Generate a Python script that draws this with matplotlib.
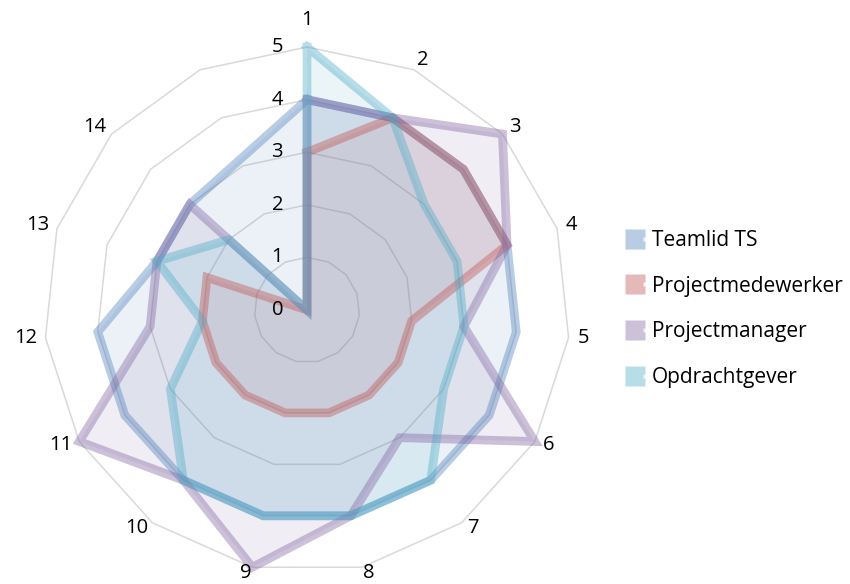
import numpy as np
import matplotlib
matplotlib.use("Agg")
import matplotlib.pyplot as plt
from matplotlib.lines import Line2D
from matplotlib.legend_handler import HandlerTuple

plt.rcParams["font.family"] = ["Open Sans", "DejaVu Sans"]

# 15 spokes, the last one has no label
categories = ["1", "2", "3", "4", "5", "6", "7", "8", "9", "10", "11", "12", "13", "14", ""]
levels = [0, 1, 2, 3, 4, 5]

series_names = ["Teamlid TS", "Projectmedewerker", "Projectmanager", "Opdrachtgever"]
teamlid = [4, 4, 4, 4, 4, 4, 4, 4, 4, 4, 4, 4, 3, 3, np.nan]
medewerker = [3, 4, 4, 4, 2, 2, 2, 2, 2, 2, 2, 2, 2, 0, 0]
manager = [4, 4, 5, 4, 3, 5, 3, 4, 5, 4, 5, 3, 3, 3, 0]
opdrachtgever = [5, 4, 3, 3, 3, 3, 4, 4, 4, 4, 3, 2, 3, 2, 0]
series_values = [teamlid, medewerker, manager, opdrachtgever]
colors = ["#4F81BD", "#C0504D", "#8064A2", "#4BACC6"]

n = len(categories)
theta = np.arange(n) * 2 * np.pi / n

fig = plt.figure(figsize=(8.5, 5.84), dpi=100)
ax = fig.add_axes([0.0518, 0.0188, 0.6188, 0.9007], projection="polar")
ax.set_theta_offset(np.pi / 2)
ax.set_theta_direction(-1)
ax.set_ylim(0, 5)
ax.set_xticks([])
ax.set_yticks([])
ax.grid(False)
ax.spines["polar"].set_visible(False)
ax.patch.set_visible(False)

# polygon grid
th_closed = np.append(theta, theta[0])
for lv in levels[1:]:
    ax.plot(th_closed, [lv] * (n + 1), color="#D9D9D9", lw=1.1, zorder=1, clip_on=False)

# series
for vals, col in zip(series_values, colors):
    v = np.array(vals, dtype=float)
    ok = ~np.isnan(v)
    t = np.append(theta[ok], theta[ok][0])
    r = np.append(v[ok], v[ok][0])
    ax.fill(t, r, color=col, alpha=0.11, lw=0, zorder=2)
    ax.plot(t, r, color=col, alpha=0.4, lw=6.3, solid_joinstyle="miter",
            zorder=3, clip_on=False)

# category labels
fs = 14.5
for i, lab in enumerate(categories):
    if lab == "":
        continue
    s, c = np.sin(theta[i]), np.cos(theta[i])
    half_w = 5.5 * len(lab)
    dx = np.sign(s) * np.sqrt(abs(s)) * (9 + half_w)
    dy = c * 11 if c > 0 else c * 6
    if i == 0:
        dy = 27
    ax.annotate(lab, (theta[i], 5), xytext=(dx * 0.72, dy * 0.72),
                textcoords="offset points", ha="center", va="center",
                fontsize=fs, color="#000000", annotation_clip=False)

# value labels along the first spoke
for lv in levels:
    ax.annotate(str(lv), (0, lv), xytext=(-24 * 0.72, 0), textcoords="offset points",
                ha="right", va="center", fontsize=fs, color="#000000",
                annotation_clip=False)

handles = []
for col in colors:
    sq = Line2D([], [], ls="none", marker="s", markersize=15, markerfacecolor=col,
                markeredgecolor="none", alpha=0.4)
    dot = Line2D([], [], ls="none", marker="s", markersize=2.5, markerfacecolor="white",
                 markeredgecolor="none", alpha=0.8)
    handles.append((sq, dot))

fig.legend(handles, series_names, loc="center left", bbox_to_anchor=(630 / 850, 1 - 309 / 584),
           frameon=False, fontsize=15, labelspacing=1.18, handlelength=0.98,
           handletextpad=0.08, borderaxespad=0, borderpad=0,
           handler_map={tuple: HandlerTuple(ndivide=None, pad=0)})

fig.savefig("out.png", dpi=100)
